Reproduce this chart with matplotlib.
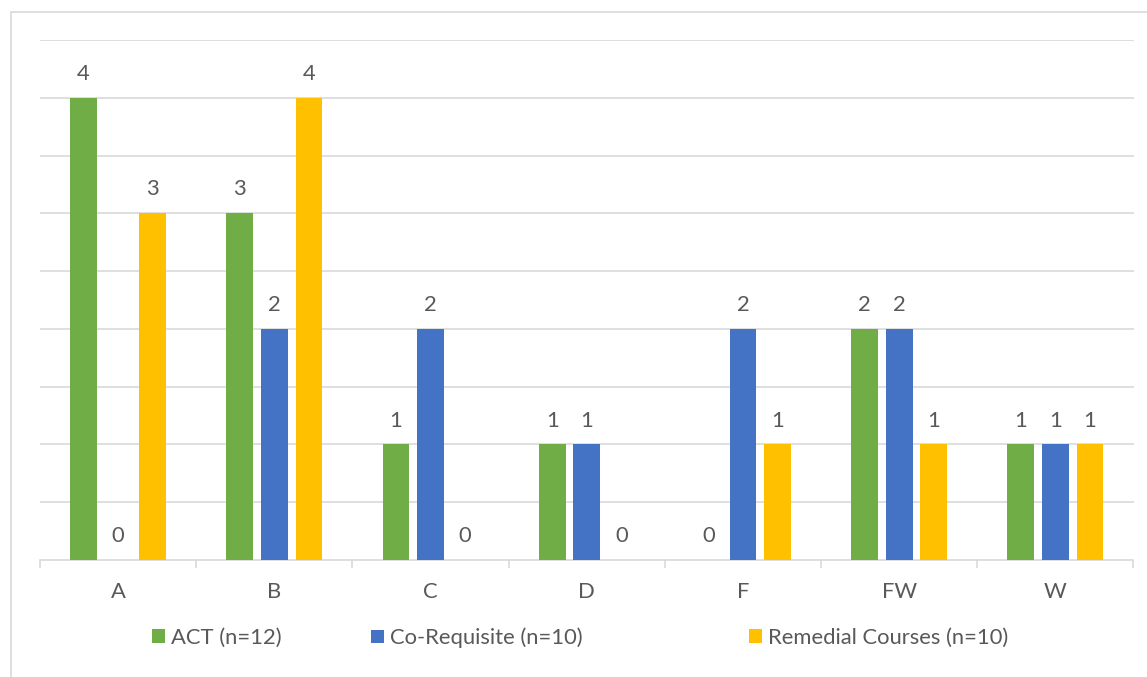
import numpy as np
import matplotlib
matplotlib.use("Agg")
import matplotlib.pyplot as plt
from matplotlib.patches import Rectangle, Patch
from matplotlib.ticker import FixedLocator, NullFormatter, FixedFormatter

# Grade distribution per placement route
grades = ["A", "B", "C", "D", "F", "FW", "W"]
act = [4, 3, 1, 1, 0, 2, 1]
co_requisite = [0, 2, 2, 1, 2, 2, 1]
remedial = [3, 4, 0, 0, 1, 1, 1]
series_names = ["ACT (n=12)", "Co-Requisite (n=10)", "Remedial Courses (n=10)"]
series_colors = ["#70AD47", "#4472C4", "#FFC000"]

TEXT = "#595959"
GRID = "#D9D9D9"
FONT = "Lato"
FS = 15.8

W, H = 1147, 677
fig = plt.figure(figsize=(W / 100, H / 100), dpi=100)

# light frame around the chart
fig.patches.append(Rectangle((11 / W, -0.1), 1.2, 1 - 12 / H + 0.1,
                             transform=fig.transFigure, fill=False,
                             edgecolor=GRID, linewidth=1.2))

ax = fig.add_axes([40 / W, 1 - 560 / H, (1133.5 - 40) / W, 520 / H])

x = np.arange(len(grades))
width = 0.171
step = 0.2215
all_series = [act, co_requisite, remedial]
for i, (vals, color, name) in enumerate(zip(all_series, series_colors, series_names)):
    bars = ax.bar(x + (i - 1) * step, vals, width, color=color, label=name, zorder=3)
    ax.bar_label(bars, labels=[str(v) for v in vals], padding=10,
                 color=TEXT, fontsize=FS, family=FONT)

ax.set_xlim(-0.5, len(grades) - 0.5)
ax.set_ylim(0, 4.5)
ax.set_yticks(np.arange(0.5, 4.51, 0.5))
ax.yaxis.grid(True, color=GRID, linewidth=1.2, zorder=0)
ax.tick_params(axis="y", length=0, labelleft=False)

# category boundaries carry the tick marks, centres carry the labels
ax.xaxis.set_major_locator(FixedLocator(np.arange(-0.5, len(grades), 1.0)))
ax.xaxis.set_major_formatter(NullFormatter())
ax.xaxis.set_minor_locator(FixedLocator(x))
ax.xaxis.set_minor_formatter(FixedFormatter(grades))
ax.tick_params(axis="x", which="major", length=6, width=1.2, color=GRID, direction="out")
ax.tick_params(axis="x", which="minor", length=0, pad=16, labelcolor=TEXT, labelsize=FS)
for lbl in ax.get_xticklabels(minor=True):
    lbl.set_family(FONT)

for side in ["left", "right", "top"]:
    ax.spines[side].set_visible(False)
ax.spines["bottom"].set_color(GRID)
ax.spines["bottom"].set_linewidth(1.2)

# legend entries placed individually along the bottom
legend_x = [152, 371, 749]
for lx, color, name in zip(legend_x, series_colors, series_names):
    leg = fig.legend(handles=[Patch(facecolor=color, label=name)],
                     loc="center left", bbox_to_anchor=(lx / W, 1 - 638 / H),
                     frameon=False, borderpad=0, borderaxespad=0,
                     handlelength=0.57, handleheight=0.57, handletextpad=0.3,
                     prop={"family": FONT, "size": FS})
    for t in leg.get_texts():
        t.set_color(TEXT)

fig.savefig("out.png", dpi=100, facecolor="white")
